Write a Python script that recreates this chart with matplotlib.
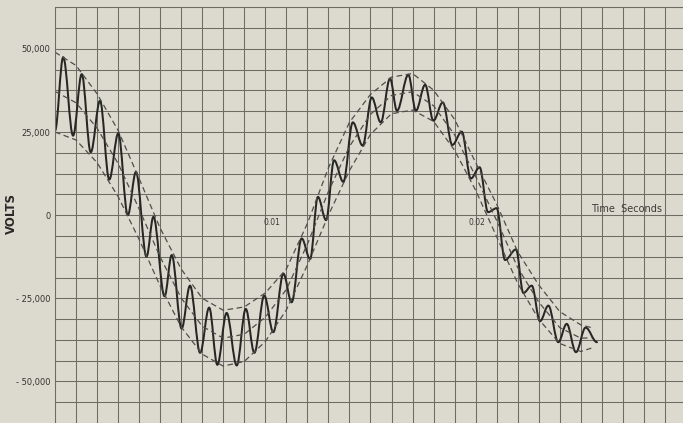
import numpy as np
import matplotlib
matplotlib.use("Agg")
import matplotlib.pyplot as plt
from matplotlib.path import Path
from matplotlib.patches import PathPatch

# ---------------- data ----------------
# time axis in milliseconds
env_t_ms = [0, 1, 2, 3, 4, 5, 6, 7, 8, 9, 10, 11, 12, 13, 14, 15, 16, 17,
            18, 19, 20, 21, 22, 23, 24, 25, 25.5]
env_upper = [49000, 45000, 36500, 25500, 11000, -3900, -16200, -25000, -28600,
             -27600, -23400, -16200, -2500, 14200, 27900, 36300, 41500, 42600,
             37600, 28800, 15800, 3300, -11000, -21000, -29000, -33000, -33800]
env_middle = [37200, 33800, 26150, 15550, 1850, -12600, -24900, -33400, -37000,
              -35800, -30700, -22350, -8750, 7100, 20650, 30300, 36000, 37100,
              32900, 24150, 11650, -1600, -15750, -26150, -33800, -37000, -36900]
env_lower = [25000, 22600, 15800, 5600, -7300, -21300, -33600, -41800, -45400,
             -44000, -38000, -28500, -15000, 0, 13400, 24300, 30500, 31600,
             28200, 19500, 7500, -6500, -20500, -31300, -38600, -41000, -40000]

# turning points (peaks / troughs) of the oscillogram trace
wave_t_ms = [0.0, 0.39, 0.86, 1.27, 1.70, 2.14, 2.58, 3.01, 3.46, 3.85, 4.35,
             4.68, 5.21, 5.55, 6.02, 6.42, 6.90, 7.33, 7.72, 8.16, 8.64, 9.07,
             9.48, 9.95, 10.38, 10.86, 11.25, 11.73, 12.13, 12.50, 12.89, 13.27,
             13.71, 14.16, 14.63, 15.06, 15.49, 15.93, 16.26, 16.80, 17.16,
             17.60, 17.99, 18.44, 18.89, 19.34, 19.77, 20.19, 20.59, 21.00,
             21.40, 21.92, 22.27, 22.67, 23.06, 23.46, 23.93, 24.33, 24.77,
             25.23, 25.77]
wave_volts = [25400, 47500, 23900, 42400, 18900, 34400, 10700, 24600, 0, 13000,
              -12500, -500, -24400, -12000, -34100, -21200, -41400, -27800,
              -45000, -29400, -45200, -28200, -41400, -24200, -35200, -17600,
              -26200, -7000, -13200, 5500, -1500, 16500, 10000, 27900, 20900,
              35400, 27900, 41100, 31400, 42200, 31400, 39200, 28400, 33900,
              21100, 25100, 11000, 14400, 900, 2100, -13500, -10300, -23400,
              -21200, -31900, -27200, -38200, -32700, -41200, -33800, -38200]

ytick_values = [50000, 25000, 0, -25000, -50000]
ytick_labels = ["50,000", "25,000", "0", "- 25,000", "- 50,000"]
time_marks_s = [0.01, 0.02]
time_mark_labels = ["0.01", "0.02"]
y_label = "VOLTS"
x_label = "Time  Seconds"

# ---------------- styling ----------------
BG = "#dcdacf"
GRID = "#6c6c65"
INK = "#262624"
DASH = "#4e4e4a"

W, H = 683, 423
fig = plt.figure(figsize=(W / 100, H / 100), dpi=100, facecolor=BG)
left_px, top_px = 55, 7.3
ax = fig.add_axes([left_px / W, 0, 1 - left_px / W, 1 - top_px / H])
ax.set_facecolor(BG)

ax.set_xlim(0, 29.86)
ax.set_ylim(-62200, 62500)

ax.set_xticks(np.arange(0, 30, 1))
ax.set_xticklabels([])
ax.set_yticks(ytick_values)
ax.set_yticklabels(ytick_labels)
ax.set_yticks(np.arange(-62500, 62501, 6250), minor=True)
ax.tick_params(which="both", length=0)
ax.tick_params(axis="y", pad=3.2, labelsize=6, labelcolor="#333330")
ax.grid(which="both", color=GRID, lw=0.75)
ax.set_axisbelow(True)
for s in ["right", "bottom"]:
    ax.spines[s].set_visible(False)
for s in ["top", "left"]:
    ax.spines[s].set_color(GRID)
    ax.spines[s].set_linewidth(0.75)

# envelopes (dashed)
for env in (env_upper, env_middle, env_lower):
    ax.plot(env_t_ms, env, color=DASH, lw=0.9, dashes=(4.5, 2.8))

# oscillogram trace: smooth curve through turning points
k = 0.36
verts = [(wave_t_ms[0], wave_volts[0])]
codes = [Path.MOVETO]
for i in range(1, len(wave_t_ms)):
    t0, v0 = wave_t_ms[i - 1], wave_volts[i - 1]
    t1, v1 = wave_t_ms[i], wave_volts[i]
    dt = t1 - t0
    verts += [(t0 + k * dt, v0), (t1 - k * dt, v1), (t1, v1)]
    codes += [Path.CURVE4] * 3
ax.add_patch(PathPatch(Path(verts, codes), fill=False, ec=INK, lw=1.45,
                       joinstyle="round", capstyle="round"))

# time marks and axis captions
for ts, lab, off in zip(time_marks_s, time_mark_labels, [0.3, 0.05]):
    ax.text(ts * 1000 + off, -2100, lab, fontsize=5.5, color="#3a3a36",
            ha="center", va="center")
ax.text(27.17, 1900, x_label, fontsize=7, color="#3a3a36",
        ha="center", va="center")
fig.text(11 / W, 1 - 214 / H, y_label, rotation=90, fontsize=8.5,
         fontweight="bold", color="#2a2a28", ha="center", va="center")

fig.savefig("out.png", dpi=100, facecolor=BG)
